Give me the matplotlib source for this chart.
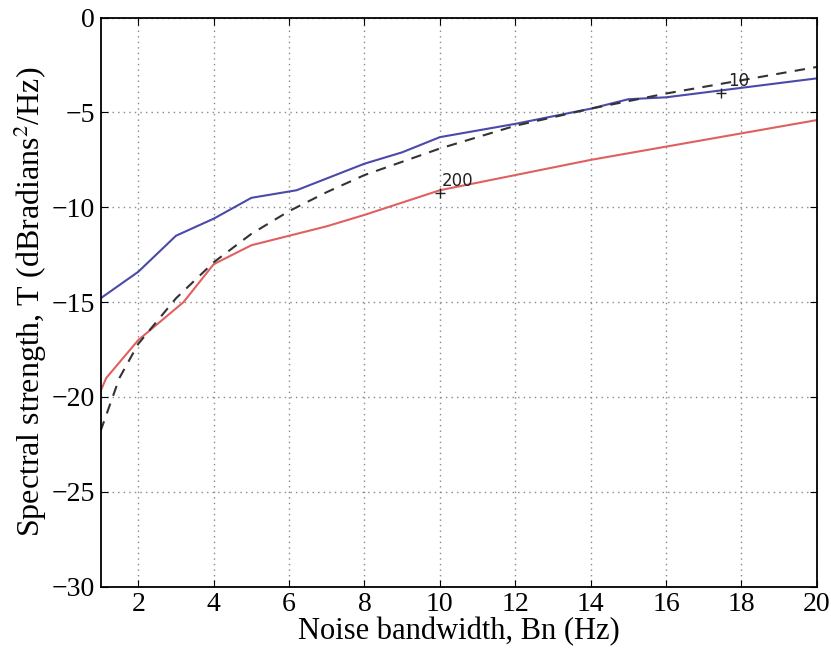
import numpy as np
import matplotlib.pyplot as plt

plt.rcParams['font.family'] = ['Liberation Serif', 'DejaVu Serif']
plt.rcParams['mathtext.fontset'] = 'stix'

# blue curve
bw_blue = [1, 2, 3, 4, 5, 6.2, 8, 9, 10, 12, 14, 15, 16, 18, 20]
t_blue = [-14.8, -13.4, -11.5, -10.6, -9.5, -9.1, -7.7, -7.1, -6.3, -5.6, -4.8, -4.3, -4.2, -3.7, -3.2]

# red curve
bw_red = [1, 1.15, 2, 3.2, 4, 5, 6, 7, 8, 10, 12, 14, 16, 18, 20]
t_red = [-19.7, -19.0, -17.0, -15.0, -13.0, -12.0, -11.5, -11.0, -10.4, -9.1, -8.3, -7.5, -6.8, -6.1, -5.4]

# dashed curve
bw_dash = [1, 1.5, 2, 3, 4, 5, 6, 7, 8, 10, 12, 14, 16, 18, 20]
t_dash = [-21.8, -19.0, -17.2, -14.8, -12.9, -11.4, -10.2, -9.2, -8.3, -6.9, -5.7, -4.8, -4.0, -3.3, -2.6]

fig = plt.figure(figsize=(8.31, 6.54), dpi=100)
ax = fig.add_axes([0.121, 0.103, 0.862, 0.87])

ax.plot(bw_blue, t_blue, color='#4a4aa8', lw=1.5)
ax.plot(bw_red, t_red, color='#e06060', lw=1.5)
ax.plot(bw_dash, t_dash, color='#333333', lw=1.5, ls=(0, (5, 4)))

ax.text(17.65, -3.6, '10', fontsize=12, family='DejaVu Sans', color='#222222')
ax.plot([17.45], [-3.95], marker='+', color='#222222', ms=7)
ax.text(10.05, -8.9, '200', fontsize=12, family='DejaVu Sans', color='#222222')
ax.plot([10.0], [-9.25], marker='+', color='#222222', ms=7)

ax.set_xlim(1, 20)
ax.set_ylim(-30, 0)
ax.set_xticks([2, 4, 6, 8, 10, 12, 14, 16, 18, 20])
ax.set_yticks([-30, -25, -20, -15, -10, -5, 0])
ax.set_yticklabels(['\u221230', '\u221225', '\u221220', '\u221215', '\u221210', '\u22125', '0'])
ax.grid(True, color='#888888', ls=(0, (1, 3)), lw=1.0)
ax.tick_params(direction='in', labelsize=20, length=5, top=True, right=True, pad=4)
for s in ax.spines.values():
    s.set_linewidth(1.3)

ax.set_xlabel('Noise bandwidth, Bn (Hz)', fontsize=22, labelpad=0)
ax.set_ylabel('Spectral strength, T (dBradians$^2$/Hz)', fontsize=23, labelpad=2)

fig.savefig('out.png', dpi=100)
